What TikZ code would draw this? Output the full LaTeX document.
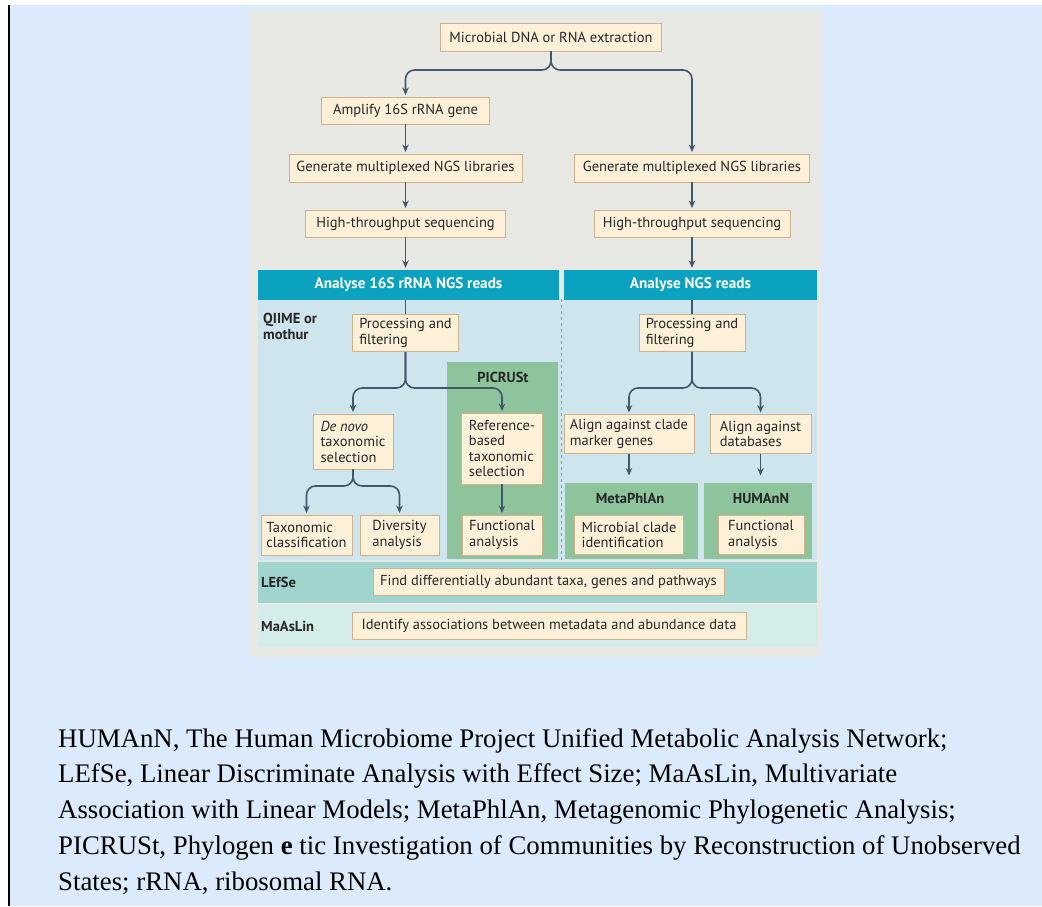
\documentclass[tikz,border=0pt]{standalone}
\usepackage{fontspec}
\setmainfont{Liberation Serif}
\setsansfont{PT Sans}
\usepackage{tikz}
\usetikzlibrary{arrows.meta,positioning}
\definecolor{pageblue}{HTML}{DCEBFC}
\definecolor{panelgray}{HTML}{E8E8E5}
\definecolor{boxfill}{HTML}{FDF0D8}
\definecolor{boxdraw}{HTML}{CFB28C}
\definecolor{headteal}{HTML}{0AA2BE}
\definecolor{areablue}{HTML}{CFE5EE}
\definecolor{toolgreen}{HTML}{8EC49C}
\definecolor{lefseband}{HTML}{A0D5CF}
\definecolor{maasband}{HTML}{D5EDEA}
\definecolor{arrowgray}{HTML}{44566A}
\tikzset{
  fl box/.style={
    rectangle,
    draw=boxdraw,
    line width=0.9pt,
    fill=boxfill,
    font=\sffamily\fontsize{14.5}{15.5}\selectfont,
    text=black!85,
    inner sep=0pt,
    align=left,
  },
  fl head/.style={
    rectangle,
    fill=headteal,
    text=white,
    font=\sffamily\bfseries\fontsize{15.2}{17}\selectfont,
    inner sep=0pt,
    minimum height=30pt,
  },
  fl tool/.style={font=\sffamily\bfseries\fontsize{14.5}{16}\selectfont, text=black!85, inner sep=0pt, align=left},
  fl arrow/.style={-{Stealth[length=7.5pt,width=6.5pt]}, line width=1.6pt, draw=arrowgray, shorten >=1.5pt},
  fl line/.style={line width=1.6pt, draw=arrowgray},
}

\begin{document}
\begin{tikzpicture}[x=1pt, y=-1pt]
  \useasboundingbox (0,0) rectangle (1042,906);
  % page and panel
  \fill[white] (0,0) rectangle (1042,906);
  \fill[pageblue] (9,5) rectangle (1042,906);
  \draw[black, line width=1.8pt] (9,5) -- (9,906);
  \fill[panelgray] (250,10) rectangle (822,657);
  \fill[areablue] (258,299) rectangle (817,560);
  \fill[toolgreen] (447,362) rectangle (558,559);
  \fill[toolgreen] (565,483) rectangle (698,559);
  \fill[toolgreen] (704,483) rectangle (812,559);
  \fill[lefseband] (258,562) rectangle (817,603);
  \fill[maasband] (258,605) rectangle (817,647);
  \draw[arrowgray!60, line width=0.8pt, dashed] (561,299) -- (561,560);

  % top part
  \node[fl box, minimum width=221pt, minimum height=28pt] (extr) at (551,37) {Microbial DNA or RNA extraction};
  \node[fl box, minimum width=168pt, minimum height=27pt] (amp) at (405.5,110.5) {Amplify 16S rRNA gene};
  \node[fl box, minimum width=233pt, minimum height=28pt] (genA) at (405.5,168) {Generate multiplexed NGS libraries};
  \node[fl box, minimum width=235pt, minimum height=28pt] (genB) at (692,168) {Generate multiplexed NGS libraries};
  \node[fl box, minimum width=200pt, minimum height=27pt] (htsA) at (405.5,223.5) {High-throughput sequencing};
  \node[fl box, minimum width=196pt, minimum height=27pt] (htsB) at (692,223.5) {High-throughput sequencing};
  \node[fl head, minimum width=301pt] (hdA) at (408.5,284.5) {Analyse 16S rRNA NGS reads};
  \node[fl head, minimum width=253pt] (hdB) at (690.5,284.5) {Analyse NGS reads};

  \coordinate (splitT) at (551,70);
  \draw[fl arrow, rounded corners=9pt] (extr.south) |- (amp.north |- splitT) -- (amp.north);
  \draw[fl arrow, rounded corners=9pt] (extr.south) |- (genB.north |- splitT) -- (genB.north);
  \draw[fl arrow] (amp) -- (genA);
  \draw[fl arrow] (genA) -- (htsA);
  \draw[fl arrow] (genB) -- (htsB);
  \draw[fl arrow] (htsA.south) -- (htsA.south |- hdA.north);
  \draw[fl arrow] (htsB.south) -- (htsB.south |- hdB.north);

  % 16S side
  \node[fl tool, anchor=north west] (qiime) at (263,313) {QIIME or\\mothur};
  \node[fl tool] (picrust) at (503,377) {PICRUSt};
  \node[fl box, minimum width=106pt, minimum height=37pt] (procA) at (405.5,333) {Processing and\\filtering};
  \node[fl box, minimum width=80pt, minimum height=55pt] (denovo) at (353,441.5) {\textit{De novo}\\taxonomic\\selection};
  \node[fl box, minimum width=81pt, minimum height=71pt] (refsel) at (502,448.5) {Reference-\\based\\taxonomic\\selection};
  \node[fl box, minimum width=91pt, minimum height=40pt] (taxcl) at (306.5,535) {Taxonomic\\classification};
  \node[fl box, minimum width=79pt, minimum height=40pt] (divan) at (399.5,535) {Diversity\\analysis};
  \node[fl box, minimum width=80pt, minimum height=40pt] (funcA) at (502,535) {Functional\\analysis};

  \coordinate (splitA) at (405.5,388);
  \coordinate (splitB) at (353,486);
  \draw[fl line] (hdA.south -| procA.north) -- (procA.north);
  \draw[fl arrow, rounded corners=9pt] (procA.south) |- (denovo.north |- splitA) -- (denovo.north);
  \draw[fl arrow, rounded corners=9pt] (procA.south) |- (refsel.north |- splitA) -- (refsel.north);
  \draw[fl arrow, rounded corners=9pt] (denovo.south) |- (taxcl.north |- splitB) -- (taxcl.north);
  \draw[fl arrow, rounded corners=9pt] (denovo.south) |- (divan.north |- splitB) -- (divan.north);
  \draw[fl arrow] (refsel) -- (funcA);

  % shotgun side
  \node[fl box, minimum width=106pt, minimum height=37pt] (procB) at (692,333) {Processing and\\filtering};
  \node[fl box, minimum width=130pt, minimum height=39pt] (alignC) at (629,434) {Align against clade\\marker genes};
  \node[fl box, minimum width=101pt, minimum height=39pt] (alignD) at (760.5,434) {Align against\\databases};
  \node[fl tool] (metaphlan) at (630,498) {MetaPhlAn};
  \node[fl tool] (humann) at (761,498) {HUMAnN};
  \node[fl box, minimum width=109pt, minimum height=39pt] (mcid) at (629,535) {Microbial clade\\identification};
  \node[fl box, minimum width=86pt, minimum height=39pt] (funcB) at (761,535) {Functional\\analysis};

  \coordinate (splitC) at (692,388);
  \coordinate (mpIn) at (629,477);
  \coordinate (hmIn) at (760.5,477);
  \draw[fl line] (hdB.south -| procB.north) -- (procB.north);
  \draw[fl arrow, rounded corners=9pt] (procB.south) |- (alignC.north |- splitC) -- (alignC.north);
  \draw[fl arrow, rounded corners=9pt] (procB.south) |- (alignD.north |- splitC) -- (alignD.north);
  \draw[fl arrow] (alignC.south) -- (mpIn);
  \draw[fl arrow] (alignD.south) -- (hmIn);

  % bands at the bottom
  \node[fl tool, anchor=west] (lefse) at (261,582) {LEfSe};
  \node[fl box, minimum width=351pt, minimum height=27pt] (findbox) at (548.5,582) {Find differentially abundant taxa, genes and pathways};
  \node[fl tool, anchor=west] (maaslin) at (261,626) {MaAsLin};
  \node[fl box, minimum width=394pt, minimum height=27pt] (identbox) at (549,626) {Identify associations between metadata and abundance data};

  % caption
  \node[anchor=north west, inner sep=0pt, align=left, font=\fontsize{26.8}{35.8}\selectfont] (caption) at (58,728) {HUMAnN, The Human Microbiome Project Unified Metabolic Analysis Network;\\
LEfSe, Linear Discriminate Analysis with Effect Size; MaAsLin, Multivariate\\
Association with Linear Models; MetaPhlAn, Metagenomic Phylogenetic Analysis;\\
PICRUSt, Phylogen \textbf{e} tic Investigation of Communities by Reconstruction of Unobserved\\
States; rRNA, ribosomal RNA.};
\end{tikzpicture}
\end{document}
